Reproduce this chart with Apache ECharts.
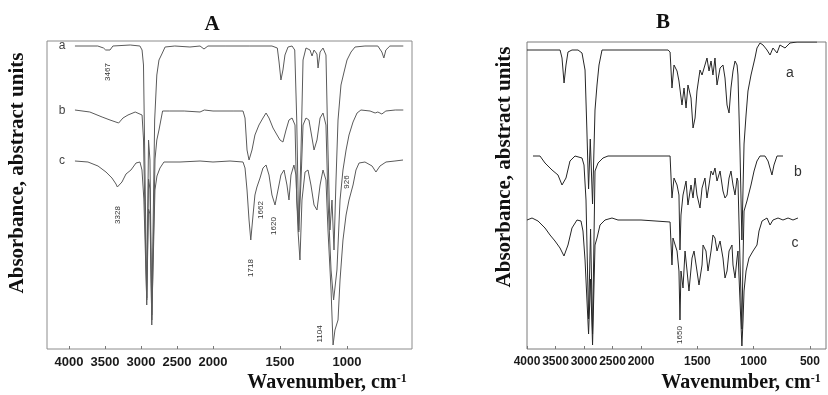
<!DOCTYPE html>
<html>
<head>
<meta charset="utf-8">
<script src="https://cdn.jsdelivr.net/npm/echarts@6/dist/echarts.min.js"></script>
<style>
  html, body { margin: 0; padding: 0; background: #fff; }
  #chart { width: 828px; height: 395px; }
</style>
</head>
<body>
<div id="chart"></div>
<script>
// spectra: [wavenumber cm-1, absorbance (abstract units)]
const specA_a = [[3917,3.03],[3600,3.03],[3520,3.01],[3490,2.99],[3467,2.97],[3430,2.99],[3390,3.03],[3150,3.04],[3015,3.03],[2985,2.99],[2965,2.84],[2920,0.51],[2895,2.09],[2875,1.89],[2850,0.34],[2810,2.29],[2780,2.74],[2750,2.89],[2710,2.95],[2665,3.02],[2530,3.03],[2320,3.02],[2180,3.03],[2125,3.00],[2070,3.03],[1910,3.03],[1725,3.03],[1560,3.03],[1520,3.01],[1507,2.87],[1493,2.69],[1478,2.79],[1463,2.94],[1440,3.02],[1410,3.03],[1390,2.99],[1375,2.29],[1360,1.17],[1343,1.99],[1328,2.89],[1306,3.01],[1276,2.99],[1261,2.93],[1246,2.99],[1224,2.95],[1216,2.81],[1201,2.97],[1179,3.01],[1157,2.94],[1142,1.99],[1127,1.19],[1112,1.49],[1097,0.99],[1082,1.69],[1067,2.29],[1045,2.64],[1022,2.77],[1000,2.89],[970,2.97],[940,3.02],[866,3.03],[770,3.03],[740,2.97],[725,2.91],[710,2.99],[680,3.03],[580,3.03]]
const specA_b = [[3917,2.39],[3710,2.37],[3540,2.32],[3430,2.29],[3310,2.26],[3250,2.31],[3180,2.34],[3080,2.37],[2985,2.34],[2965,2.10],[2920,0.44],[2895,1.70],[2875,1.60],[2850,0.24],[2805,1.90],[2780,2.09],[2750,2.19],[2700,2.38],[2600,2.38],[2400,2.38],[2180,2.37],[2120,2.39],[2000,2.38],[1850,2.38],[1776,2.38],[1761,2.31],[1746,1.99],[1731,1.89],[1709,1.99],[1687,2.14],[1657,2.24],[1627,2.31],[1604,2.36],[1582,2.31],[1552,2.21],[1522,2.14],[1500,2.09],[1478,2.07],[1455,2.19],[1433,2.29],[1410,2.31],[1388,2.24],[1375,1.49],[1360,1.19],[1343,1.69],[1328,2.24],[1306,2.31],[1284,2.29],[1261,2.11],[1246,1.99],[1224,2.09],[1201,2.31],[1179,2.36],[1157,2.24],[1142,1.49],[1119,0.79],[1100,0.49],[1075,0.79],[1052,1.49],[1030,1.79],[1007,1.99],[985,2.14],[955,2.27],[925,2.36],[896,2.39],[828,2.38],[790,2.36],[770,2.37],[740,2.35],[710,2.38],[640,2.39],[580,2.39]]
const specA_c = [[3917,1.88],[3736,1.87],[3597,1.83],[3486,1.77],[3403,1.71],[3347,1.65],[3328,1.62],[3264,1.67],[3208,1.75],[3139,1.79],[3069,1.86],[3014,1.87],[2986,1.79],[2960,1.50],[2920,0.49],[2895,1.40],[2875,1.35],[2850,0.29],[2806,1.59],[2778,1.73],[2736,1.81],[2681,1.87],[2458,1.87],[2180,1.88],[2000,1.87],[1873,1.88],[1776,1.87],[1761,1.81],[1746,1.59],[1731,1.29],[1718,1.09],[1701,1.34],[1687,1.54],[1672,1.62],[1649,1.71],[1627,1.81],[1604,1.84],[1582,1.74],[1560,1.54],[1537,1.44],[1515,1.59],[1493,1.74],[1470,1.79],[1448,1.64],[1433,1.49],[1418,1.74],[1396,1.84],[1381,1.74],[1366,1.19],[1351,0.89],[1336,1.49],[1313,1.77],[1291,1.79],[1269,1.64],[1246,1.44],[1224,1.39],[1201,1.64],[1179,1.79],[1157,1.69],[1142,1.19],[1119,0.59],[1104,0.04],[1090,0.19],[1067,0.29],[1052,0.69],[1030,1.09],[1007,1.34],[985,1.49],[955,1.64],[933,1.79],[910,1.86],[866,1.87],[813,1.83],[784,1.77],[754,1.83],[709,1.87],[642,1.88],[582,1.89]]

const specB_a = [[4000,2.99],[3420,2.99],[3386,2.91],[3350,2.66],[3316,2.84],[3281,2.97],[3211,2.99],[3105,2.99],[3035,2.96],[2982,2.79],[2950,2.20],[2920,1.60],[2890,2.10],[2850,1.45],[2807,2.39],[2772,2.64],[2737,2.84],[2684,2.99],[2000,2.99],[1760,2.99],[1742,2.97],[1725,2.61],[1707,2.84],[1680,2.78],[1663,2.68],[1636,2.44],[1618,2.61],[1600,2.41],[1583,2.64],[1556,2.51],[1538,2.21],[1520,2.31],[1503,2.58],[1476,2.79],[1458,2.74],[1432,2.84],[1414,2.91],[1396,2.78],[1378,2.88],[1361,2.74],[1343,2.91],[1325,2.64],[1298,2.81],[1272,2.84],[1254,2.71],[1236,2.44],[1218,2.36],[1201,2.61],[1183,2.78],[1165,2.88],[1147,2.84],[1139,2.74],[1121,1.99],[1104,1.09],[1094,1.60],[1085,2.05],[1067,2.34],[1050,2.58],[1023,2.74],[988,2.91],[970,3.01],[943,3.06],[916,3.04],[881,2.99],[854,2.94],[828,3.01],[792,2.96],[766,3.04],[721,3.01],[677,3.06],[614,3.07],[499,3.07],[437,3.07]]
const specB_b = [[3895,1.93],[3772,1.93],[3684,1.86],[3561,1.79],[3456,1.74],[3386,1.64],[3316,1.71],[3246,1.88],[3158,1.93],[3035,1.91],[3000,1.84],[2965,1.49],[2920,0.30],[2885,1.20],[2850,0.15],[2807,1.78],[2754,1.86],[2667,1.91],[2579,1.93],[2000,1.93],[1742,1.93],[1725,1.51],[1707,1.71],[1680,1.64],[1663,1.54],[1654,0.99],[1645,1.34],[1627,1.54],[1600,1.68],[1583,1.44],[1556,1.64],[1538,1.51],[1520,1.71],[1503,1.54],[1476,1.41],[1458,1.61],[1432,1.71],[1414,1.51],[1396,1.64],[1378,1.78],[1361,1.74],[1343,1.81],[1325,1.68],[1298,1.78],[1272,1.58],[1254,1.51],[1236,1.54],[1218,1.71],[1201,1.78],[1183,1.64],[1165,1.54],[1147,1.71],[1139,1.68],[1121,0.89],[1104,0.20],[1094,0.89],[1085,1.38],[1059,1.48],[1023,1.64],[996,1.78],[970,1.88],[943,1.93],[899,1.93],[872,1.88],[837,1.74],[819,1.84],[792,1.93],[739,1.93]]
const specB_c = [[4000,1.29],[3912,1.31],[3807,1.28],[3684,1.21],[3596,1.14],[3509,1.08],[3421,1.01],[3351,0.93],[3281,1.04],[3211,1.21],[3123,1.29],[3053,1.28],[3018,1.18],[2982,0.89],[2920,0.15],[2885,0.70],[2850,0.04],[2807,1.04],[2772,1.11],[2719,1.24],[2632,1.29],[2509,1.31],[2404,1.29],[2000,1.29],[1742,1.27],[1725,0.84],[1716,1.11],[1680,0.98],[1663,0.78],[1654,0.29],[1645,0.78],[1627,0.61],[1609,0.98],[1591,0.78],[1574,0.58],[1547,0.91],[1529,0.98],[1503,0.78],[1485,0.64],[1458,0.84],[1449,1.04],[1423,0.98],[1405,0.78],[1378,0.98],[1361,1.14],[1343,1.11],[1325,0.98],[1298,1.08],[1272,0.91],[1254,0.71],[1236,0.78],[1218,0.98],[1192,1.04],[1183,0.84],[1165,0.71],[1147,0.91],[1139,0.98],[1121,0.49],[1104,0.03],[1094,0.28],[1085,0.58],[1067,0.78],[1041,0.91],[1005,0.98],[970,1.04],[952,1.18],[925,1.28],[881,1.31],[854,1.24],[828,1.29],[783,1.31],[739,1.29],[694,1.31],[650,1.29],[606,1.31]]

const ticksA = [4000, 3500, 3000, 2500, 2000, 1500, 1000]
const ticksB = [4000, 3500, 3000, 2500, 2000, 1500, 1000, 500]

// peak annotations [text, wavenumber, absorbance]
const peaksA = [['3467', 3458, 2.77], ['3328', 3319, 1.34], ['1718', 1716, 0.81], ['1662', 1642, 1.39], ['1620', 1545, 1.23], ['1104', 1201, 0.15], ['926', 1000, 1.67]]
const peaksB = [['1650', 1654, 0.14]]
const curveNamesA = [['a', 4097, 3.03], ['b', 4097, 2.38], ['c', 4097, 1.88]]
const curveNamesB = [['a', 677, 2.76], ['b', 606, 1.77], ['c', 632, 1.06]]

// the wavenumber axis is stretched below 2000 cm-1
const uFor = r => w => (w >= 2000 ? (4000 - w) / 500 : 4 + (2000 - w) / 500 * r)
const uA = uFor(1.861)
const uB = uFor(1.975)

const chart = echarts.init(document.getElementById('chart'))

const tickFont = { color: '#1a1a1a', fontWeight: 'bold', fontFamily: 'Liberation Sans' }

const makeX = (idx, ticks, u, min, max, fs) => ({
  type: 'value',
  gridIndex: idx,
  min: u(min),
  max: u(max),
  axisLine: { show: false },
  splitLine: { show: false },
  axisTick: {
    inside: true,
    length: 3,
    customValues: ticks.map(u),
    lineStyle: { color: '#777' }
  },
  axisLabel: {
    ...tickFont,
    fontSize: fs,
    margin: 7,
    customValues: ticks.map(u),
    formatter: val => {
      let best = 0
      ticks.forEach((t, i) => { if (Math.abs(u(t) - val) < Math.abs(u(ticks[best]) - val)) best = i })
      return String(ticks[best])
    }
  }
})

const line = (data, u, idx, color) => ({
  type: 'line',
  xAxisIndex: idx,
  yAxisIndex: idx,
  data: data.map(p => [u(p[0]), p[1]]),
  symbol: 'none',
  lineStyle: { width: 1, color: color },
  animation: false,
  clip: true
})

const option = {
  animation: false,
  grid: [
    { left: 47, top: 41, width: 365, height: 308, show: true, borderColor: '#8c8c8c', borderWidth: 1 },
    { left: 527, top: 42, width: 299, height: 307, show: true, borderColor: '#7a7a7a', borderWidth: 1 }
  ],
  xAxis: [
    makeX(0, ticksA, uA, 4305, 515, 13),
    makeX(1, ticksB, uB, 4000, 357, 12)
  ],
  yAxis: [
    { type: 'value', gridIndex: 0, min: 0, max: 3.08, show: false },
    { type: 'value', gridIndex: 1, min: 0, max: 3.07, show: false }
  ],
  series: [
    line(specA_a, uA, 0, '#5a5a5a'),
    line(specA_b, uA, 0, '#5a5a5a'),
    line(specA_c, uA, 0, '#5a5a5a'),
    line(specB_a, uB, 1, '#262626'),
    line(specB_b, uB, 1, '#262626'),
    line(specB_c, uB, 1, '#262626')
  ]
}
chart.setOption(option)

const txt = (x, y, text, font, extra) => ({
  type: 'text',
  x: x,
  y: y,
  rotation: (extra && extra.rotation) || 0,
  style: {
    text: text,
    font: font,
    fill: (extra && extra.fill) || '#111',
    textAlign: 'center',
    textVerticalAlign: 'middle',
    align: 'center',
    verticalAlign: 'middle',
    rich: extra && extra.rich
  }
})

const serifB = '"Liberation Serif", "DejaVu Serif", serif'
const richName = {
  m: { fontSize: 20, fontWeight: 'bold', fontFamily: serifB, fill: '#111', color: '#111' },
  s: { fontSize: 12, fontWeight: 'bold', fontFamily: serifB, verticalAlign: 'top', fill: '#111', color: '#111' }
}

const graphics = [
  txt(212, 25, 'A', 'bold 21px ' + serifB),
  txt(663, 23, 'B', 'bold 21px ' + serifB),
  txt(18, 173, 'Absorbance, abstract units', 'bold 21px ' + serifB, { rotation: Math.PI / 2 }),
  txt(505, 167, 'Absorbance, abstract units', 'bold 21px ' + serifB, { rotation: Math.PI / 2 }),
  txt(327, 383, '{m|Wavenumber, cm}{s|-1}', 'bold 20px ' + serifB, { rich: richName }),
  txt(741, 383, '{m|Wavenumber, cm}{s|-1}', 'bold 20px ' + serifB, { rich: richName })
]

const place = (list, u, idx, font, rotate, fill) => {
  list.forEach(p => {
    const pt = chart.convertToPixel({ xAxisIndex: idx, yAxisIndex: idx }, [u(p[1]), p[2]])
    graphics.push(txt(pt[0], pt[1], p[0], font, { rotation: rotate ? Math.PI / 2 : 0, fill: fill }))
  })
}
place(peaksA, uA, 0, '8px "Liberation Sans"', true, '#333')
place(peaksB, uB, 1, '8px "Liberation Sans"', true, '#333')
place(curveNamesA, uA, 0, '12px "Liberation Sans"', false, '#444')
place(curveNamesB, uB, 1, '14px "Liberation Sans"', false, '#333')

chart.setOption({ graphic: graphics })
</script>
</body>
</html>
